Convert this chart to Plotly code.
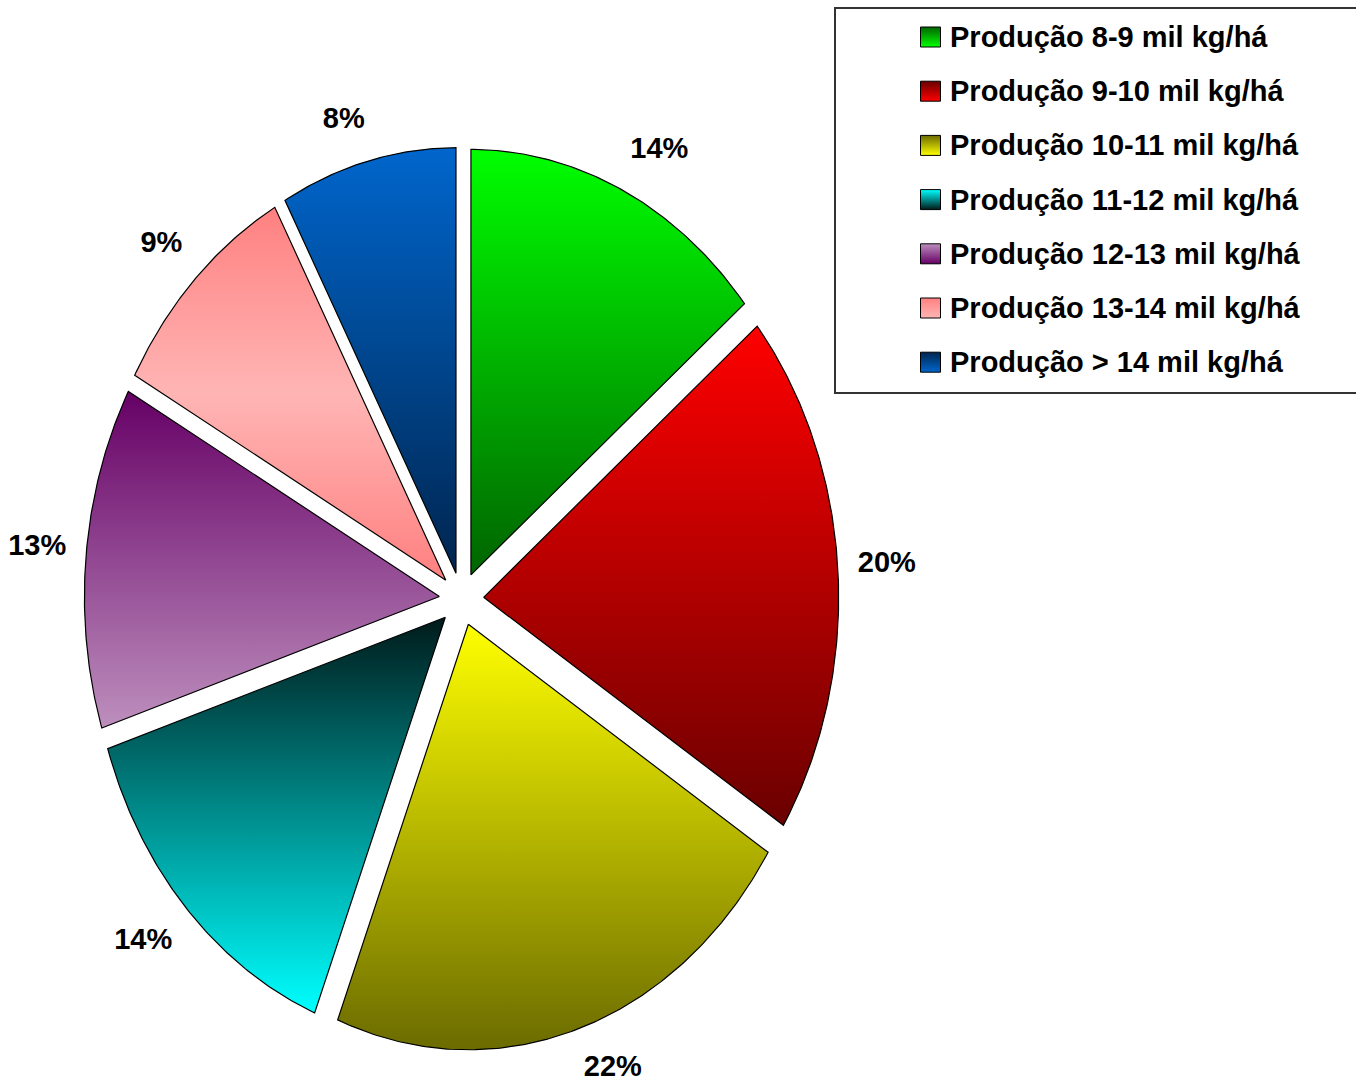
import numpy as np
import plotly.graph_objects as go

# Production classes and their share of the total (percent)
categories = [
    "Produção 8-9 mil kg/há",
    "Produção 9-10 mil kg/há",
    "Produção 10-11 mil kg/há",
    "Produção 11-12 mil kg/há",
    "Produção 12-13 mil kg/há",
    "Produção 13-14 mil kg/há",
    "Produção > 14 mil kg/há",
]
shares = [14, 20, 22, 14, 13, 9, 8]

# Vertical fill gradients for each slice (bottom -> top)
slice_gradients = [
    [[0, "#006400"], [1, "#00FF00"]],
    [[0, "#6A0000"], [1, "#FF0000"]],
    [[0, "#6B6B00"], [1, "#FFFF00"]],
    [[0, "#00FFFF"], [1, "#001A1A"]],
    [[0, "#BD8FBD"], [1, "#660066"]],
    [[0, "#FF8080"], [0.5, "#FFB5B5"], [1, "#FF8080"]],
    [[0, "#00254F"], [1, "#0066CC"]],
]
# Legend swatch colours (top, bottom)
swatch_colors = [
    ("#00FF00", "#006400"),
    ("#FF0000", "#6A0000"),
    ("#FFFF00", "#6B6B00"),
    ("#001A1A", "#00FFFF"),
    ("#660066", "#BD8FBD"),
    ("#FFB5B5", "#FF8080"),
    ("#0066CC", "#00254F"),
]

FONT = "Liberation Sans, Arial, sans-serif"
PULL = 0.0625        # explosion distance, in pie radii
LABEL_ANCHOR = 1.12  # where the label box touches, in pie radii
CHAR_HALF_W = 9.5    # half label width per character, px
LABEL_HALF_H = 17.0  # half label height, px

W, H = 1356, 1091
RX, RY = 355.0, 425.5     # pie radius in pixels (x, y)
CX, CY = 461.5, 599.0     # pie centre in pixels

fig = go.Figure()

total = float(sum(shares))
fractions = np.array(shares) / total
ends = np.cumsum(fractions) * 360.0
starts = ends - fractions * 360.0

label_x, label_y, label_text = [], [], []
for name, start, end, frac, grad in zip(categories, starts, ends, fractions, slice_gradients):
    mid = np.radians((start + end) / 2.0)
    s, c = np.sin(mid), np.cos(mid)
    ox, oy = PULL * s, PULL * c
    theta = np.radians(np.linspace(start, end, max(int((end - start) * 2), 8)))
    xs = np.concatenate([[ox], ox + np.sin(theta), [ox]])
    ys = np.concatenate([[oy], oy + np.cos(theta), [oy]])
    fig.add_trace(go.Scatter(
        x=xs, y=ys, mode="lines", fill="toself",
        fillgradient=dict(type="vertical", colorscale=grad),
        line=dict(color="black", width=1.2),
        name=name, showlegend=False, hoverinfo="name",
    ))
    # label box sits just outside the slice, pushed away along its bisector
    txt = f"{round(frac * 100):.0f}%"
    half_w = CHAR_HALF_W * len(txt)
    sx, sy = np.clip(4 * s, -1, 1), np.clip(4 * c, -1, 1)
    label_x.append(LABEL_ANCHOR * s + sx * half_w / RX)
    label_y.append(LABEL_ANCHOR * c + sy * LABEL_HALF_H / RY)
    label_text.append(txt)

fig.add_trace(go.Scatter(
    x=label_x, y=label_y, mode="text", text=label_text,
    textposition="middle center",
    textfont=dict(family=FONT, size=29, color="black", weight="bold"),
    showlegend=False, hoverinfo="skip",
))

# Legend drawn on a pixel-space overlay
row0, row_step = 37.0, 54.2
sw_x, txt_x = 930.5, 948.0
for i, (name, (top, bottom)) in enumerate(zip(categories, swatch_colors)):
    yy = row0 + i * row_step
    fig.add_trace(go.Scatter(
        x=[sw_x], y=[yy], xaxis="x2", yaxis="y2", mode="markers",
        marker=dict(symbol="square", size=20, color=bottom,
                    gradient=dict(type="vertical", color=top),
                    line=dict(color="black", width=1)),
        showlegend=False, hoverinfo="skip",
    ))
    fig.add_annotation(
        x=txt_x, y=yy, xref="x2", yref="y2", text=name, showarrow=False,
        xanchor="left", yanchor="middle",
        font=dict(family=FONT, size=29, color="black", weight="bold"),
    )

fig.add_shape(type="rect", xref="x2", yref="y2", x0=835, x1=W + 10, y0=8, y1=393,
              line=dict(color="#333333", width=2), fillcolor="rgba(0,0,0,0)", layer="below")

fig.update_layout(
    width=W, height=H,
    margin=dict(l=0, r=0, t=0, b=0),
    paper_bgcolor="white", plot_bgcolor="white",
    showlegend=False,
    xaxis=dict(range=[-CX / RX, (W - CX) / RX], visible=False, fixedrange=True),
    yaxis=dict(range=[-(H - CY) / RY, CY / RY], visible=False, fixedrange=True),
    xaxis2=dict(range=[0, W], overlaying="x", visible=False, fixedrange=True),
    yaxis2=dict(range=[H, 0], overlaying="y", visible=False, fixedrange=True),
)

fig.write_html("out.html")
